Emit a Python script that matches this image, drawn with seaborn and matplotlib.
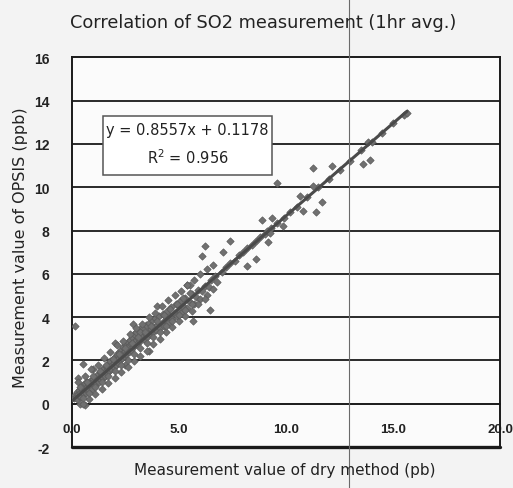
import matplotlib
matplotlib.use("Agg")
import matplotlib.pyplot as plt
from matplotlib.lines import Line2D
from matplotlib.patches import Rectangle
import seaborn as sns
import pandas as pd

# ---- data ----
dry_x = [0.10,0.15,0.20,0.22,0.25,0.30,0.32,0.35,0.40,0.42,0.45,0.50,0.52,0.55,0.60,0.62,0.65,0.70,0.72,0.75,
         0.80,0.82,0.85,0.88,0.90,0.95,0.98,1.00,1.05,1.08,1.10,1.15,1.18,1.20,1.25,1.28,1.30,1.35,1.38,1.40,
         1.45,1.48,1.50,1.55,1.58,1.60,1.65,1.68,1.70,1.75,1.78,1.80,1.85,1.88,1.90,1.95,1.98,2.00,2.05,2.08,
         2.10,2.15,2.18,2.20,2.25,2.28,2.30,2.35,2.38,2.40,2.45,2.48,2.50,2.55,2.58,2.60,2.65,2.68,2.70,2.75,
         2.78,2.80,2.85,2.88,2.90,2.95,3.00,3.00,3.05,3.10,3.15,3.20,3.25,3.30,3.35,3.40,3.45,3.50,3.55,3.60,
         3.65,3.70,3.75,3.80,3.85,3.90,3.95,4.00,4.05,4.10,4.20,4.25,4.30,4.40,4.45,4.50,4.60,4.65,4.70,4.80,
         4.85,4.90,5.00,5.05,5.10,5.20,5.30,5.40,5.50,5.60,5.70,5.80,5.90,6.00,6.10,6.20,6.30,6.40,6.50,6.60,
         6.70,6.80,7.00,7.20,7.40,7.60,7.80,8.00,8.20,8.40,8.60,8.80,9.00,9.30,9.60,9.90,10.20,10.50,11.00,11.50,
         12.00,12.50,13.00,13.50,14.00,14.50,15.00,15.50,
         0.14,0.50,0.40,0.60,1.00,0.30,2.00,3.20,2.50,4.00,3.60,5.40,5.65,6.45,2.85,
         8.90,9.10,6.20,7.40,8.60,7.05,8.20,6.10,5.50,9.35,9.85,9.15,9.25,
         11.26,12.15,9.60,10.65,11.70,11.40,10.80,11.25,13.60,13.90,13.85,15.65,
         0.3,0.6,0.9,1.2,1.5,1.8,2.1,2.4,2.7,3.0,3.3,3.6,3.9,4.2,4.5,4.8,5.1,5.4,5.7,6.0,6.3,6.6,
         0.5,0.8,1.1,1.4,1.7,2.0,2.3,2.6,2.9,3.2,3.5,3.8,4.1,4.4,4.7,5.0,5.3,5.6,5.9,6.2,
         0.4,0.7,1.0,1.3,1.6,1.9,2.2,2.5,2.8,3.1,3.4,3.7,4.0,4.3,4.6,4.9,5.2,5.5,
         0.5,0.8,1.1,1.4,1.7,2.0,2.3,2.6,2.9,3.2,3.5,3.8,4.1,4.4,4.7,5.0,5.3,5.6]
opsis_y = [0.25,0.40,0.30,0.55,0.20,0.45,0.65,0.35,0.50,0.75,0.30,0.60,0.85,0.45,0.70,0.95,0.50,0.75,1.00,0.60,
           0.85,0.65,1.05,0.80,0.95,0.70,1.15,0.90,1.05,0.80,1.25,0.95,1.10,1.35,1.00,1.20,1.45,1.10,1.30,1.55,
           1.20,1.40,1.65,1.30,1.50,1.75,1.40,1.60,1.85,1.50,1.70,1.95,1.60,1.80,2.05,1.70,1.90,2.15,1.80,2.00,
           2.30,1.90,2.10,2.40,2.00,2.20,2.50,2.10,2.35,2.60,2.20,2.45,2.75,2.30,2.55,2.85,2.40,2.65,2.95,2.50,
           2.75,3.10,2.60,2.85,3.20,2.70,2.95,3.30,2.75,3.05,3.40,2.90,3.15,3.55,3.00,3.25,3.65,3.10,3.35,3.75,
           3.20,3.45,3.85,3.30,3.55,3.95,3.40,3.65,4.05,3.50,3.75,4.15,3.60,3.90,4.30,3.75,4.05,4.45,3.90,4.20,
           4.60,4.05,4.35,4.75,4.20,4.50,4.90,4.40,4.70,5.05,4.60,4.95,5.25,4.85,5.20,5.45,5.00,5.40,5.70,5.30,
           5.90,5.60,6.10,6.30,6.50,6.60,6.85,7.00,7.20,7.35,7.50,7.70,7.85,8.10,8.35,8.60,8.85,9.10,9.55,10.00,
           10.40,10.80,11.20,11.70,12.10,12.50,12.95,13.35,
           3.60,1.85,0.00,-0.05,1.60,1.20,2.80,3.30,1.80,4.50,2.45,5.50,3.80,4.33,3.70,
           8.50,8.00,7.30,7.50,6.70,7.00,6.35,6.80,5.50,8.60,8.20,7.45,7.90,
           10.90,11.00,10.20,9.60,9.30,8.85,8.90,10.05,11.05,11.25,12.10,13.45,
           1.0,1.3,1.6,1.8,2.1,2.4,2.7,2.9,3.2,3.5,3.7,4.0,4.2,4.5,4.8,5.0,5.2,5.5,5.7,6.0,6.2,6.4,
           0.0,0.2,0.45,0.7,0.95,1.2,1.45,1.7,1.95,2.2,2.45,2.75,3.0,3.3,3.55,3.8,4.05,4.3,4.6,4.85,
           0.76,1.02,1.28,1.53,1.79,2.05,2.30,2.56,2.82,3.07,3.33,3.59,3.84,4.10,4.36,4.61,4.87,5.13,
           0.25,0.50,0.76,1.02,1.27,1.53,1.79,2.04,2.30,2.56,2.81,3.07,3.33,3.58,3.84,4.10,4.35,4.61]

slope = 0.8557
intercept = 0.1178
r_squared = 0.956
line_x = [0.0, 15.65]

x_ticks = [0.0, 5.0, 10.0, 15.0, 20.0]
y_ticks = [-2, 0, 2, 4, 6, 8, 10, 12, 14, 16]

df = pd.DataFrame({"dry": dry_x, "opsis": opsis_y})
fit = pd.DataFrame({"x": line_x, "y": [slope * v + intercept for v in line_x]})

sns.set_theme(style="white")
plt.rcParams["font.family"] = ["DejaVu Sans"]

fig = plt.figure(figsize=(5.13, 4.89), dpi=100, facecolor="#f3f3f3")
ax = fig.add_axes([0.140, 0.0838, 0.835, 0.797])
ax.set_facecolor("#fbfbfb")

# gridlines
for v in y_ticks[2:-1]:
    ax.axhline(v, color="#1a1a1a", lw=1.3, zorder=1)

sns.scatterplot(data=df, x="dry", y="opsis", ax=ax, marker="D", s=14,
                color="#707070", edgecolor="#5a5a5a", linewidth=0.5, zorder=3, legend=False)
sns.lineplot(data=fit, x="x", y="y", ax=ax, color="#4a4a4a", lw=2.2, zorder=4)

ax.set_xlim(0, 20)
ax.set_ylim(-2, 16)

# x axis drawn at y = 0
ax.spines["bottom"].set_position(("data", 0))
for s in ["top", "left", "right", "bottom"]:
    ax.spines[s].set_color("#1a1a1a")
    ax.spines[s].set_linewidth(1.4)
ax.axhline(-2, color="#1a1a1a", lw=2.4, clip_on=False, zorder=5)

ax.set_xticks(x_ticks)
ax.set_xticklabels([f"{v:.1f}" for v in x_ticks])
ax.set_yticks(y_ticks)
ax.set_yticklabels([str(v) for v in y_ticks])
ax.tick_params(axis="x", direction="in", length=3, width=1, color="#1a1a1a", pad=14,
               labelsize=9.5, labelcolor="#222")
ax.tick_params(axis="y", direction="in", length=3, width=1, color="#1a1a1a", pad=16,
               labelsize=10, labelcolor="#222")
for lab in ax.get_xticklabels() + ax.get_yticklabels():
    lab.set_fontweight("bold")
    lab.set_family(["Liberation Sans", "DejaVu Sans"])

ax.set_xlabel("")
ax.set_ylabel("")
fig.text(0.555, 0.038, "Measurement value of dry method (pb)", ha="center", va="center",
         fontsize=11, color="#222")
fig.text(0.040, 0.493, "Measurement value of OPSIS (ppb)", ha="center", va="center",
         rotation=90, fontsize=11.5, color="#222")
fig.text(0.513, 0.953, "Correlation of SO2 measurement (1hr avg.)", ha="center", va="center",
         fontsize=12.8, color="#222")

# equation box
ax.add_patch(Rectangle((1.45, 10.55), 7.9, 2.75, facecolor="white", edgecolor="#555",
                       lw=1.1, zorder=6))
ax.text(5.4, 12.67, f"y = {slope}x + {intercept}", ha="center", va="center",
        fontsize=10.5, color="#222", zorder=7)
ax.text(5.4, 11.43, f"R$^2$ = {r_squared}", ha="center", va="center",
        fontsize=10.5, color="#222", zorder=7)

# scan fold line
fig.add_artist(Line2D([349 / 513, 349 / 513], [0, 1], transform=fig.transFigure,
                      color="#6a6a6a", lw=0.8))

fig.savefig("out.png", dpi=100, facecolor=fig.get_facecolor())
